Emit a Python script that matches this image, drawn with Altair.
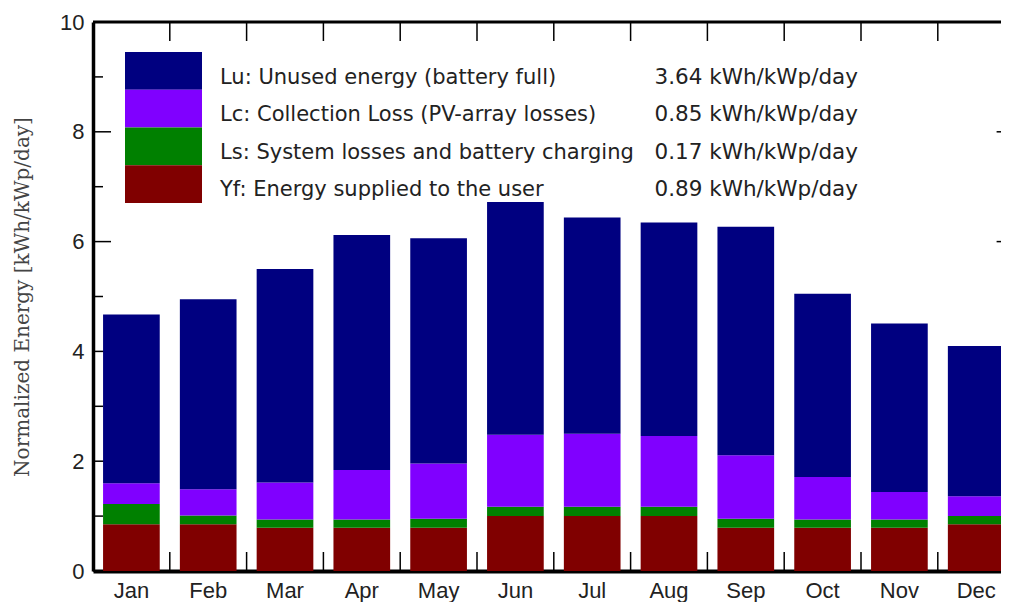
import altair as alt
import pandas as pd

months = ["Jan", "Feb", "Mar", "Apr", "May", "Jun", "Jul", "Aug", "Sep", "Oct", "Nov", "Dec"]
# segment values (kWh/kWp/day), bottom to top
yf = [0.85, 0.85, 0.79, 0.79, 0.79, 1.00, 1.00, 1.00, 0.79, 0.79, 0.79, 0.85]
ls = [0.37, 0.16, 0.15, 0.15, 0.16, 0.17, 0.17, 0.17, 0.16, 0.15, 0.15, 0.15]
lc = [0.38, 0.48, 0.67, 0.90, 1.01, 1.31, 1.33, 1.29, 1.16, 0.77, 0.50, 0.36]
lu = [3.07, 3.46, 3.89, 4.28, 4.10, 4.24, 3.94, 3.89, 4.16, 3.34, 3.07, 2.74]

comp_keys = ["Lu", "Lc", "Ls", "Yf"]
comp_colors = ["#000080", "#8000ff", "#008000", "#800000"]
legend_labels = [
    "Lu: Unused energy (battery full)",
    "Lc: Collection Loss (PV-array losses)",
    "Ls: System losses and battery charging",
    "Yf: Energy supplied to the user",
]
legend_values = ["3.64 kWh/kWp/day", "0.85 kWh/kWp/day", "0.17 kWh/kWp/day", "0.89 kWh/kWp/day"]

y_major = [0, 2, 4, 6, 8, 10]
y_minor = [1, 3, 5, 7, 9]

# ---- layout constants ----
W_VIEW = 908      # visible part (page right edge)
W_FULL = 921.6    # full frame width (extends past the page edge, as in the original)
H = 549

series = {"Yf": yf, "Ls": ls, "Lc": lc, "Lu": lu}
stack_order = {"Yf": 0, "Ls": 1, "Lc": 2, "Lu": 3}
rows = []
for i, m in enumerate(months):
    for k in ["Yf", "Ls", "Lc", "Lu"]:
        rows.append({"month": m, "comp": k, "value": series[k][i], "ord": stack_order[k]})
df = pd.DataFrame(rows)

x_scale = alt.Scale(domain=months, range=[0, W_FULL], paddingInner=0, paddingOuter=0)
y_scale = alt.Scale(domain=[0, 10], nice=False, zero=True)

x_axis = alt.Axis(
    title=None, ticks=False, labelAngle=0, labelFont="Liberation Sans", labelFontSize=22,
    labelColor="#222", labelPadding=9, domainColor="black", domainWidth=4, grid=False,
)
y_axis = alt.Axis(
    values=y_major, ticks=False, grid=False, labelFont="Liberation Sans", labelFontSize=22,
    labelColor="#222", labelPadding=9, domainColor="black", domainWidth=3.5,
    title="Normalized Energy [kWh/kWp/day]", titleFont="DejaVu Serif", titleFontSize=20,
    titleFontWeight="normal", titleColor="#444", titleX=-65, titleY=H / 2, titleAngle=270,
    titleAlign="center", titleBaseline="alphabetic",
)

bars = alt.Chart(df).mark_bar(width=alt.RelativeBandSize(0.738)).encode(
    x=alt.X("month:N", scale=x_scale, axis=x_axis, sort=months),
    y=alt.Y("value:Q", stack="zero", scale=y_scale, axis=y_axis),
    color=alt.Color("comp:N", scale=alt.Scale(domain=comp_keys, range=comp_colors), legend=None),
    order=alt.Order("ord:Q", sort="ascending"),
)

# x ticks at band boundaries (inward, bottom and top)
xt_df = pd.DataFrame({"month": months[1:]})
def xtick(y0, y1):
    return alt.Chart(xt_df).mark_rule(color="black", strokeWidth=1.5).encode(
        x=alt.X("month:N", scale=x_scale, axis=x_axis, sort=months, bandPosition=0),
        y=alt.value(y0), y2=alt.value(y1))

# y ticks (inward, left and right)
ymaj_df = pd.DataFrame({"v": y_major})
ymin_df = pd.DataFrame({"v": y_minor})
def ytick(d, x0, x1):
    return alt.Chart(d).mark_rule(color="black", strokeWidth=1.5).encode(
        y=alt.Y("v:Q", scale=y_scale, axis=y_axis), x=alt.value(x0), x2=alt.value(x1))

tick_layers = [
    ytick(ymaj_df, 0, 18), ytick(ymin_df, 0, 10),
    ytick(ymaj_df, W_FULL - 18, W_FULL), ytick(ymin_df, W_FULL - 10, W_FULL),
    xtick(H, H - 19), xtick(0, 19),
]

one = pd.DataFrame({"k": [0]})
top_line = alt.Chart(one).mark_rule(color="black", strokeWidth=3).encode(
    x=alt.value(0), x2=alt.value(W_FULL), y=alt.value(0))

# legend block
legend_layers = []
sw_top, sw_h = 30, 37.75
for i, (c, lab, val) in enumerate(zip(comp_colors, legend_labels, legend_values)):
    y0 = sw_top + i * sw_h
    legend_layers.append(alt.Chart(one).mark_rect(color=c).encode(
        x=alt.value(32), x2=alt.value(109), y=alt.value(y0), y2=alt.value(y0 + sw_h)))
    base_y = 62 + i * 37.33
    legend_layers.append(alt.Chart(one).mark_text(
        text=lab, align="left", baseline="alphabetic", font="DejaVu Sans", fontSize=21,
        color="#222").encode(x=alt.value(127), y=alt.value(base_y)))
    legend_layers.append(alt.Chart(one).mark_text(
        text=val, align="right", baseline="alphabetic", font="DejaVu Sans", fontSize=21.5,
        color="#222").encode(x=alt.value(765), y=alt.value(base_y)))

chart = alt.layer(
    *tick_layers, bars, top_line, *legend_layers
).properties(
    width=W_VIEW, height=H,
    autosize=alt.AutoSizeParams(type="none"),
    padding={"left": 85, "top": 14, "right": 0, "bottom": 31},
).configure_view(stroke=None)

chart.save("out.html", embed_options={"renderer": "svg", "actions": False})
